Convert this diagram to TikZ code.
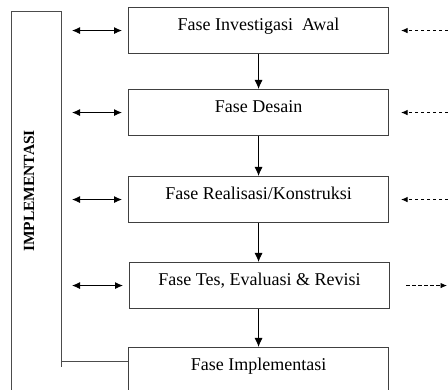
\documentclass[tikz,border=0pt]{standalone}
\usepackage{fontspec}
\setmainfont{Liberation Serif}
\usepackage{tikz}
\usetikzlibrary{arrows.meta, positioning, calc}

\tikzset{
    fase/.style={draw=black!75, line width=1.1pt, anchor=north west, minimum width=260pt,
        inner ysep=0pt, text height=23pt, text depth=23pt, font=\fontsize{18}{20}\selectfont},
    turun/.style={-{Latex[length=9pt,width=8pt]}, line width=0.9pt},
    dua/.style={{Latex[length=8pt,width=7pt]}-{Latex[length=8pt,width=7pt]}, line width=0.9pt},
    putus/.style={dash pattern=on 3.5pt off 2.5pt, line width=0.8pt}
}

\begin{document}
\begin{tikzpicture}[x=1pt, y=-1pt]
    \useasboundingbox (0,0) rectangle (448,390);
    \clip (0,0) rectangle (448,390);

    % Frame Implementasi (Left)
    \coordinate (frameR) at (61,12);
    \coordinate (join) at (61,362);
    \draw[black!70, line width=1pt] (11,395) -- (11,12) -- (frameR) -- (61,367);
    \node[rotate=90, font=\bfseries\fontsize{15.5}{18}\selectfont] (impl label) at (29,191) {IMPLEMENTASI};

    % Phases
    \node[fase] (investigasi) at (128,7) {Fase Investigasi~ Awal};
    \node[fase] (desain) at (128,89) {Fase Desain};
    \node[fase] (realisasi) at (128,176) {Fase Realisasi/Konstruksi};
    \node[fase] (tes) at (129,262) {Fase Tes, Evaluasi \& Revisi};
    \node[fase, text depth=50pt] (implementasi) at (128,347) {Fase Implementasi};

    % Flow between phases
    \draw[turun] (investigasi) -- (desain);
    \draw[turun] (desain) -- (realisasi);
    \draw[turun] (realisasi) -- (tes.north -| realisasi.south);
    \draw[turun] (tes.south -| realisasi.south) -- (implementasi.north -| realisasi.south);

    % Link frame -> last phase
    \draw[black!70, line width=1pt] (join) -- (join -| implementasi.west);

    % Double arrows (frame <-> phases)
    \foreach \fs in {investigasi, desain, realisasi, tes}
        \draw[dua, shorten <=11pt, shorten >=6pt] (frameR |- \fs.west) -- (\fs.west);

    % Dashed arrows (Right)
    \coordinate (edgeR) at (448,0);
    \foreach \fs in {investigasi, desain, realisasi}
        \draw[putus, -{Latex[length=6.5pt,width=5.5pt]}, shorten >=12pt] (edgeR |- \fs.east) -- (\fs.east);
    \draw[putus, -{Latex[length=6.5pt,width=5.5pt]}, shorten <=16pt] (tes.east) -- ([xshift=-1pt]edgeR |- tes.east);
\end{tikzpicture}
\end{document}
